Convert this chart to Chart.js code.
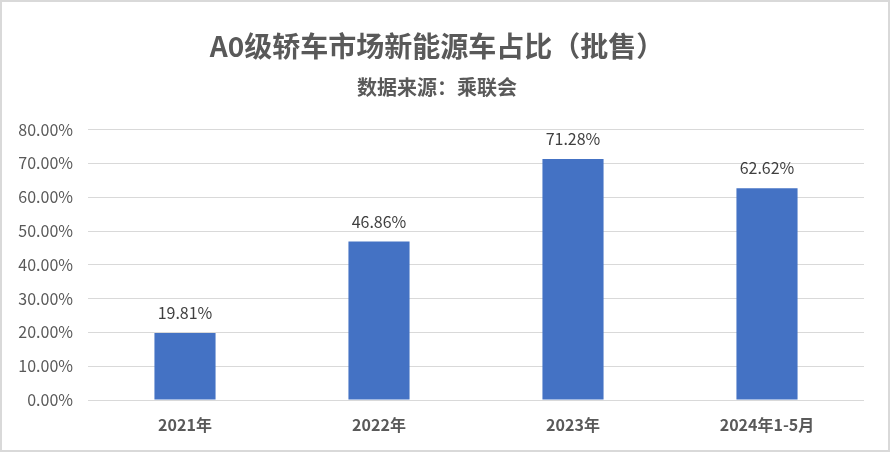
<!DOCTYPE html>
<html>
<head>
<meta charset="utf-8">
<script src="https://cdn.jsdelivr.net/npm/chart.js@4/dist/chart.umd.min.js"></script>
<style>
  html, body { margin: 0; padding: 0; background: #fff; }
  .chart_div { position: relative; width: 890px; height: 452px; box-sizing: border-box; border: 2px solid #D9D9D9; }
</style>
</head>
<body>
<div class="chart_div"><canvas id="myChart"></canvas></div>
<script>
// chart values
const categories = ["2021年", "2022年", "2023年", "2024年1-5月"];
const shares = [19.81, 46.86, 71.28, 62.62];
const yTicks = [0, 10, 20, 30, 40, 50, 60, 70, 80];

const textFont = '"Noto Sans CJK SC", "Noto Sans", sans-serif';

// draws the value over each bar
const barLabels = {
  id: 'barLabels',
  afterDatasetsDraw(chart) {
    const ctx = chart.ctx;
    const meta = chart.getDatasetMeta(0);
    ctx.save();
    ctx.font = '16px ' + textFont;
    ctx.fillStyle = '#404040';
    ctx.textAlign = 'center';
    ctx.textBaseline = 'middle';
    meta.data.forEach((bar, i) => {
      ctx.fillText(shares[i].toFixed(2) + '%', bar.x, bar.y - 20);
    });
    ctx.restore();
  }
};

var ctx = document.getElementById('myChart').getContext('2d');
var chart = new Chart(ctx, {
  type: 'bar',
  data: {
    labels: categories,
    datasets: [{
      data: shares,
      backgroundColor: '#4472C4',
      categoryPercentage: 1,
      barPercentage: 0.315
    }]
  },
  options: {
    responsive: true,
    maintainAspectRatio: false,
    animation: false,
    layout: { padding: { left: 8, right: 24, top: 0, bottom: 12 } },
    plugins: {
      legend: { display: false },
      tooltip: { enabled: false },
      title: {
        display: true,
        text: 'A0级轿车市场新能源车占比（批售）',
        color: '#595959',
        font: { family: textFont, size: 28, weight: 'bold' },
        padding: { top: 28, bottom: 12 }
      },
      subtitle: {
        display: true,
        text: '数据来源：乘联会',
        color: '#595959',
        font: { family: textFont, size: 20, weight: 'bold' },
        padding: { top: 0, bottom: 30 }
      }
    },
    scales: {
      x: {
        grid: { display: false },
        border: { display: false },
        ticks: {
          color: '#595959',
          padding: 7,
          font: { family: textFont, size: 16, weight: 'bold' }
        },
        afterFit(scale) { scale.height = 38; }
      },
      y: {
        min: 0,
        max: 80,
        afterBuildTicks(scale) { scale.ticks = yTicks.map(v => ({ value: v })); },
        grid: { color: '#D9D9D9', lineWidth: 1, drawTicks: false },
        border: { display: false },
        ticks: {
          color: '#595959',
          padding: 15,
          font: { family: textFont, size: 16 },
          callback: v => v.toFixed(2) + '%'
        },
        afterFit(scale) { scale.width = 78; }
      }
    }
  },
  plugins: [barLabels]
});
</script>
</body>
</html>
